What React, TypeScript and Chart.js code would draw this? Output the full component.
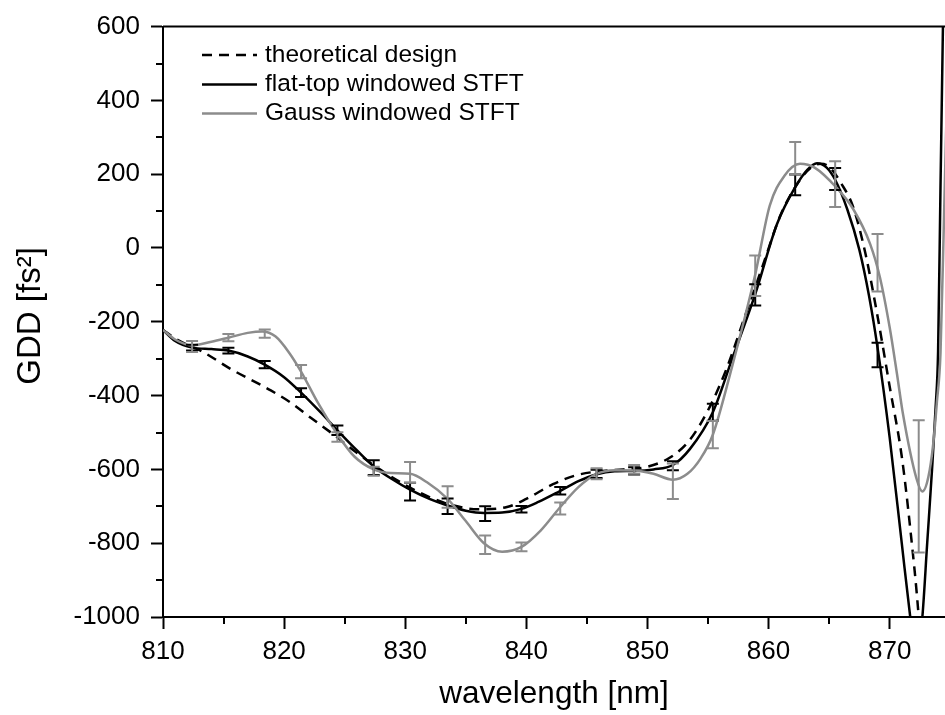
import React, { useEffect, useRef } from "react";
import { Chart, registerables } from "chart.js";

Chart.register(...registerables);

// ---- axis ranges & ticks ----
const X_MIN = 810;
const X_MAX = 874.57;
const Y_MIN = -1000;
const Y_MAX = 600;
const xMinorTicks = [815, 825, 835, 845, 855, 865];
const yMinorTicks = [-900, -700, -500, -300, -100, 100, 300, 500];
const yTitle = "GDD [fs²]";
const xTitle = "wavelength [nm]";

// ---- theoretical design (dashed) ----
const theoryWl = [810, 811, 812.4, 813.1, 815.6, 818.9, 820.5, 822.2, 824.1, 826, 828, 830, 832, 834, 836, 838.4, 840, 842.2, 844, 846, 848, 850, 852, 853.5, 855, 856.5, 858, 859.5, 861, 862.5, 863.5, 864.3, 865, 866, 867, 868, 869, 870, 871, 871.7, 872.4, 872.9];
const theoryGdd = [-222, -245, -268, -278, -328, -386, -418, -460, -506, -555, -602, -642, -675, -698, -708, -702, -680, -640, -617, -605, -600, -593, -565, -520, -440, -330, -190, -50, 90, 180, 218, 228, 220, 175, 110, -15, -185, -375, -565, -760, -1000, -1250];

// ---- flat-top windowed STFT (black) ----
const flatWl = [810, 811, 812.4, 814, 815.4, 817, 818.4, 820, 821.4, 823, 824.4, 826, 827.4, 829, 830.4, 832, 833.5, 835, 836.5, 838, 839.6, 841, 842.7, 844.3, 845.8, 847.3, 848.9, 850.5, 852.1, 853.5, 855.4, 857, 858.9, 860.7, 862.2, 863.2, 864, 864.8, 865.5, 866.5, 867.5, 868.3, 869, 870, 871, 871.7, 872.2, 872.7, 873.1, 873.5, 873.8, 874, 874.2, 874.4, 874.6];
const flatGdd = [-222, -252, -270, -274, -278, -294, -316, -350, -392, -445, -494, -548, -592, -628, -655, -680, -698, -712, -718, -717, -707, -688, -660, -632, -613, -605, -604, -600, -588, -545, -445, -300, -125, 65, 165, 212, 230, 218, 185, 105, -5, -130, -270, -513, -800, -1000, -1120, -1000, -800, -600, -430, -280, 170, 600, 1000];

// ---- Gauss windowed STFT (grey) ----
const gaussWl = [810, 811, 812.4, 814, 815.4, 817, 818.2, 819.3, 820.4, 821.4, 822.8, 824.4, 825.8, 827.4, 828.8, 830.4, 831.8, 833.5, 835, 836.5, 838, 839.6, 841.2, 842.7, 844.3, 845.8, 847.3, 848.9, 850.5, 852.1, 853.3, 854.4, 855.4, 857, 858.9, 860.1, 861.3, 862.6, 863.8, 865.6, 867, 868.4, 869.2, 870, 870.6, 871.1, 872.2, 872.7, 873.2, 873.6, 873.9, 874.2, 874.5, 874.8];
const gaussGdd = [-222, -248, -264, -254, -243, -230, -226, -240, -283, -335, -420, -505, -565, -600, -610, -612, -635, -680, -740, -800, -823, -810, -765, -706, -648, -612, -602, -603, -612, -628, -612, -570, -506, -320, -72, 115, 195, 228, 218, 164, 105, 10, -80, -215, -340, -450, -623, -660, -620, -530, -418, -284, 100, 500];

// ---- error-bar sample points ----
const sampleWl = [812.4, 815.4, 818.4, 821.4, 824.4, 827.4, 830.4, 833.5, 836.6, 839.6, 842.8, 845.8, 848.9, 852.1, 855.4, 858.9, 862.2, 865.5, 869.0, 872.4];
const flatMean = [-270, -278, -316, -392, -494, -595, -660, -700, -720, -708, -658, -612, -604, -590, -445, -127, 171, 187, -290, null];
const flatErr = [8, 8, 10, 12, 13, 20, 24, 21, 20, 9, 10, 11, 10, 12, 23, 29, 28, 30, 33, null];
const gaussMean = [-267, -243, -232, -335, -512, -605, -608, -675, -804, -810, -706, -612, -600, -632, -506, -75, 243, 173, -40, -646];
const gaussErr = [15, 10, 11, 18, 13, 12, 28, 29, 25, 12, 16, 15, 12, 48, 37, 55, 44, 62, 78, 179];

const legendLabels = ["theoretical design", "flat-top windowed STFT", "Gauss windowed STFT"];

const BLACK = "#000000";
const GRAY = "#8c8c8c";
const FONT = '"Liberation Sans", Arial, sans-serif';

const toPts = (xs: number[], ys: number[]) => xs.map((x, i) => ({ x, y: ys[i] }));

const errorBarPlugin = {
  id: "errorBars",
  afterDatasetsDraw(chart: any) {
    const { ctx, chartArea, scales } = chart;
    const xs = scales.x;
    const ys = scales.y;
    ctx.save();
    ctx.beginPath();
    ctx.rect(chartArea.left, chartArea.top, chartArea.right - chartArea.left, chartArea.bottom - chartArea.top);
    ctx.clip();
    const cap = 6;
    const drawSet = (means: (number | null)[], errs: (number | null)[], color: string) => {
      ctx.strokeStyle = color;
      ctx.lineWidth = 2;
      sampleWl.forEach((wl, i) => {
        const m = means[i];
        const e = errs[i];
        if (m == null || e == null) return;
        const px = xs.getPixelForValue(wl);
        const yt = ys.getPixelForValue(m + e);
        const yb = ys.getPixelForValue(m - e);
        ctx.beginPath();
        ctx.moveTo(px, yt);
        ctx.lineTo(px, yb);
        ctx.moveTo(px - cap, yt);
        ctx.lineTo(px + cap, yt);
        ctx.moveTo(px - cap, yb);
        ctx.lineTo(px + cap, yb);
        ctx.stroke();
      });
    };
    drawSet(flatMean, flatErr, BLACK);
    drawSet(gaussMean, gaussErr, GRAY);
    ctx.restore();
  },
};

const framePlugin = {
  id: "frameAndMinor",
  afterDraw(chart: any) {
    const { ctx, chartArea, scales } = chart;
    const xs = scales.x;
    const ys = scales.y;
    ctx.save();
    ctx.strokeStyle = BLACK;
    ctx.lineWidth = 2;
    // top frame line
    ctx.beginPath();
    ctx.moveTo(chartArea.left, chartArea.top);
    ctx.lineTo(chartArea.right, chartArea.top);
    ctx.stroke();
    // minor ticks
    ctx.beginPath();
    xMinorTicks.forEach((v) => {
      const px = Math.round(xs.getPixelForValue(v));
      ctx.moveTo(px, chartArea.bottom);
      ctx.lineTo(px, chartArea.bottom + 7);
    });
    yMinorTicks.forEach((v) => {
      const py = Math.round(ys.getPixelForValue(v));
      ctx.moveTo(chartArea.left, py);
      ctx.lineTo(chartArea.left - 7, py);
    });
    ctx.stroke();

    // y-axis title
    ctx.save();
    ctx.translate(31, ys.getPixelForValue(Y_MIN + (Y_MAX - Y_MIN) * 0.51) + 0);
    ctx.rotate(-Math.PI / 2);
    ctx.font = `33px ${FONT}`;
    ctx.fillStyle = BLACK;
    ctx.textAlign = "center";
    ctx.textBaseline = "middle";
    ctx.fillText(yTitle, 0, 0);
    ctx.restore();

    // legend
    const styles = [
      { color: BLACK, dash: [10, 7] },
      { color: BLACK, dash: [] as number[] },
      { color: GRAY, dash: [] as number[] },
    ];
    const x0 = chartArea.left + 39;
    const rows = [chartArea.top + 28.5, chartArea.top + 58, chartArea.top + 87];
    ctx.font = `24.5px ${FONT}`;
    ctx.textBaseline = "middle";
    ctx.textAlign = "left";
    legendLabels.forEach((label, i) => {
      ctx.beginPath();
      ctx.setLineDash(styles[i].dash);
      ctx.strokeStyle = styles[i].color;
      ctx.lineWidth = 2.5;
      ctx.moveTo(x0, rows[i]);
      ctx.lineTo(x0 + 55, rows[i]);
      ctx.stroke();
      ctx.setLineDash([]);
      ctx.fillStyle = BLACK;
      ctx.fillText(label, x0 + 63, rows[i]);
    });
    ctx.restore();
  },
};

export default function App() {
  const canvasRef = useRef<HTMLCanvasElement | null>(null);

  useEffect(() => {
    if (!canvasRef.current) return;
    Chart.defaults.font.family = FONT;
    const chart = new Chart(canvasRef.current, {
      type: "line",
      data: {
        datasets: [
          {
            label: legendLabels[2],
            data: toPts(gaussWl, gaussGdd),
            borderColor: GRAY,
            borderWidth: 2.5,
            pointRadius: 0,
            cubicInterpolationMode: "monotone",
            order: 1,
          },
          {
            label: legendLabels[1],
            data: toPts(flatWl, flatGdd),
            borderColor: BLACK,
            borderWidth: 2.5,
            pointRadius: 0,
            cubicInterpolationMode: "monotone",
            order: 2,
          },
          {
            label: legendLabels[0],
            data: toPts(theoryWl, theoryGdd),
            borderColor: BLACK,
            borderWidth: 2.5,
            borderDash: [10, 7],
            pointRadius: 0,
            cubicInterpolationMode: "monotone",
            order: 3,
          },
        ],
      },
      options: {
        animation: false,
        responsive: true,
        maintainAspectRatio: false,
        parsing: false as any,
        layout: { padding: { top: 20.7, right: 0, left: 0, bottom: 0 } },
        plugins: {
          legend: { display: false },
          tooltip: { enabled: false },
        },
        scales: {
          x: {
            type: "linear",
            min: X_MIN,
            max: X_MAX,
            afterFit: (s: any) => {
              s.height = 98;
            },
            ticks: {
              stepSize: 10,
              includeBounds: false,
              color: BLACK,
              font: { size: 26 },
              padding: 7,
              maxRotation: 0,
              autoSkip: false,
              callback: (v: any) => String(v),
            },
            grid: {
              drawOnChartArea: false,
              drawTicks: true,
              tickLength: 12,
              tickWidth: 2,
              tickColor: BLACK,
            },
            border: { display: true, color: BLACK, width: 2 },
            title: {
              display: true,
              text: xTitle,
              color: BLACK,
              font: { size: 31.5 },
              padding: { top: 0, bottom: 2 },
            },
          },
          y: {
            type: "linear",
            min: Y_MIN,
            max: Y_MAX,
            afterFit: (s: any) => {
              s.width = 163;
            },
            ticks: {
              stepSize: 200,
              color: BLACK,
              font: { size: 26 },
              padding: 11,
              callback: (v: any) => String(v),
            },
            grid: {
              drawOnChartArea: false,
              drawTicks: true,
              tickLength: 12,
              tickWidth: 2,
              tickColor: BLACK,
            },
            border: { display: true, color: BLACK, width: 2 },
            title: { display: false },
          },
        },
      },
      plugins: [errorBarPlugin, framePlugin],
    });
    return () => chart.destroy();
  }, []);

  return (
    <div style={{ position: "fixed", left: 0, top: 0, width: 945, height: 715, background: "#fff" }}>
      <canvas ref={canvasRef} />
    </div>
  );
}
